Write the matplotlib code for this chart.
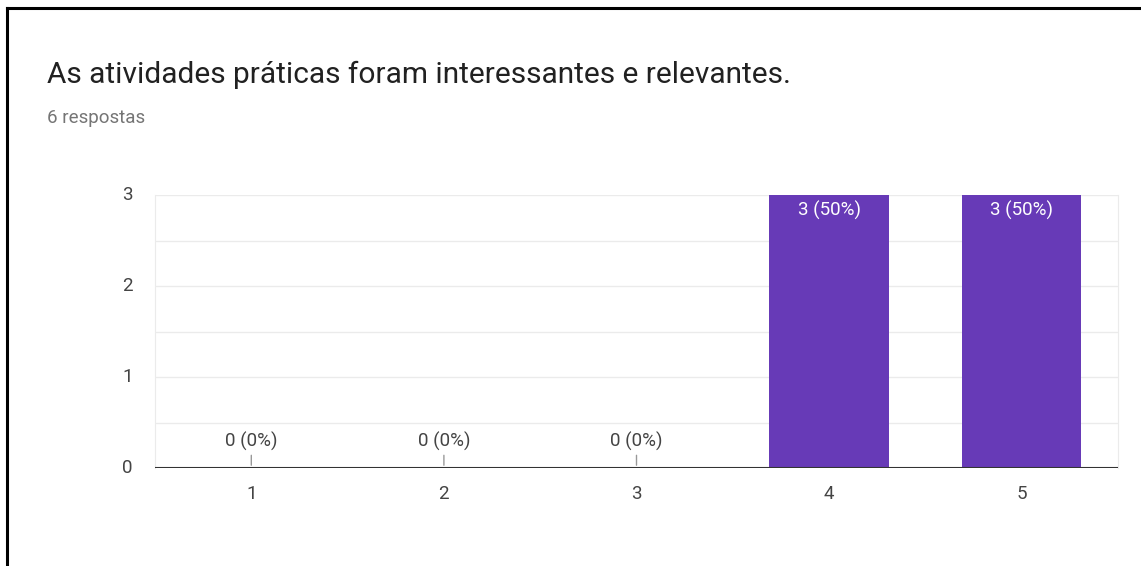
import matplotlib.pyplot as plt
from matplotlib.lines import Line2D

plt.rcParams['font.family'] = ['Roboto', 'DejaVu Sans']

# dados
categorias = [1, 2, 3, 4, 5]
respostas = [0, 0, 0, 3, 3]
total = 6
titulo = 'As atividades práticas foram interessantes e relevantes.'
subtitulo = '6 respostas'

roxo = '#673ab7'

fig = plt.figure(figsize=(11.41, 5.66), dpi=100)
ax = fig.add_axes([155 / 1141, 1 - 468 / 566, (1118 - 155) / 1141, (468 - 195) / 566])

ax.bar(categorias, respostas, width=0.62, color=roxo, zorder=3)

for x, v in zip(categorias, respostas):
    txt = f'{v} ({v / total * 100:.0f}%)'
    if v > 0:
        ax.annotate(txt, (x, v), xytext=(0, -4), textcoords='offset points',
                    ha='center', va='top', color='white', fontsize=13.5, zorder=4)
    else:
        ax.annotate('', xy=(x, 0), xytext=(x, 0.17),
                    arrowprops=dict(arrowstyle='-', color='#999999', lw=1), zorder=4)
        ax.text(x, 0.19, txt, ha='center', va='bottom', color='#444444', fontsize=13.5, zorder=4)

ax.set_xlim(0.5, 5.5)
ax.set_ylim(0, 3)
ax.set_xticks(categorias)
ax.set_yticks([0, 1, 2, 3])
for y in [0.5, 1, 1.5, 2, 2.5, 3]:
    ax.axhline(y, color='#ebebeb', lw=1, zorder=1)
ax.axhline(0, color='#333333', lw=1.5, zorder=5)
ax.tick_params(length=0, labelsize=13.5, colors='#444444')
ax.tick_params(axis='y', pad=16)
ax.tick_params(axis='x', pad=12)
for s in ['top', 'bottom']:
    ax.spines[s].set_visible(False)
for s in ['left', 'right']:
    ax.spines[s].set_color('#ebebeb')
ax.set_yticklabels([str(t) for t in [0, 1, 2, 3]], va='center')

fig.text(47 / 1141, 1 - 75 / 566, titulo, fontsize=21.5, color='#212121', va='center')
fig.text(47 / 1141, 1 - 118 / 566, subtitulo, fontsize=13.5, color='#757575', va='center')

# moldura (só esquerda e topo visíveis no recorte)
fig.add_artist(Line2D([6.5 / 1141, 6.5 / 1141], [0, 1 - 7.5 / 566], color='black', lw=2.2))
fig.add_artist(Line2D([6.5 / 1141, 1], [1 - 7.5 / 566, 1 - 7.5 / 566], color='black', lw=2.2))

fig.savefig('out.png', dpi=100)
